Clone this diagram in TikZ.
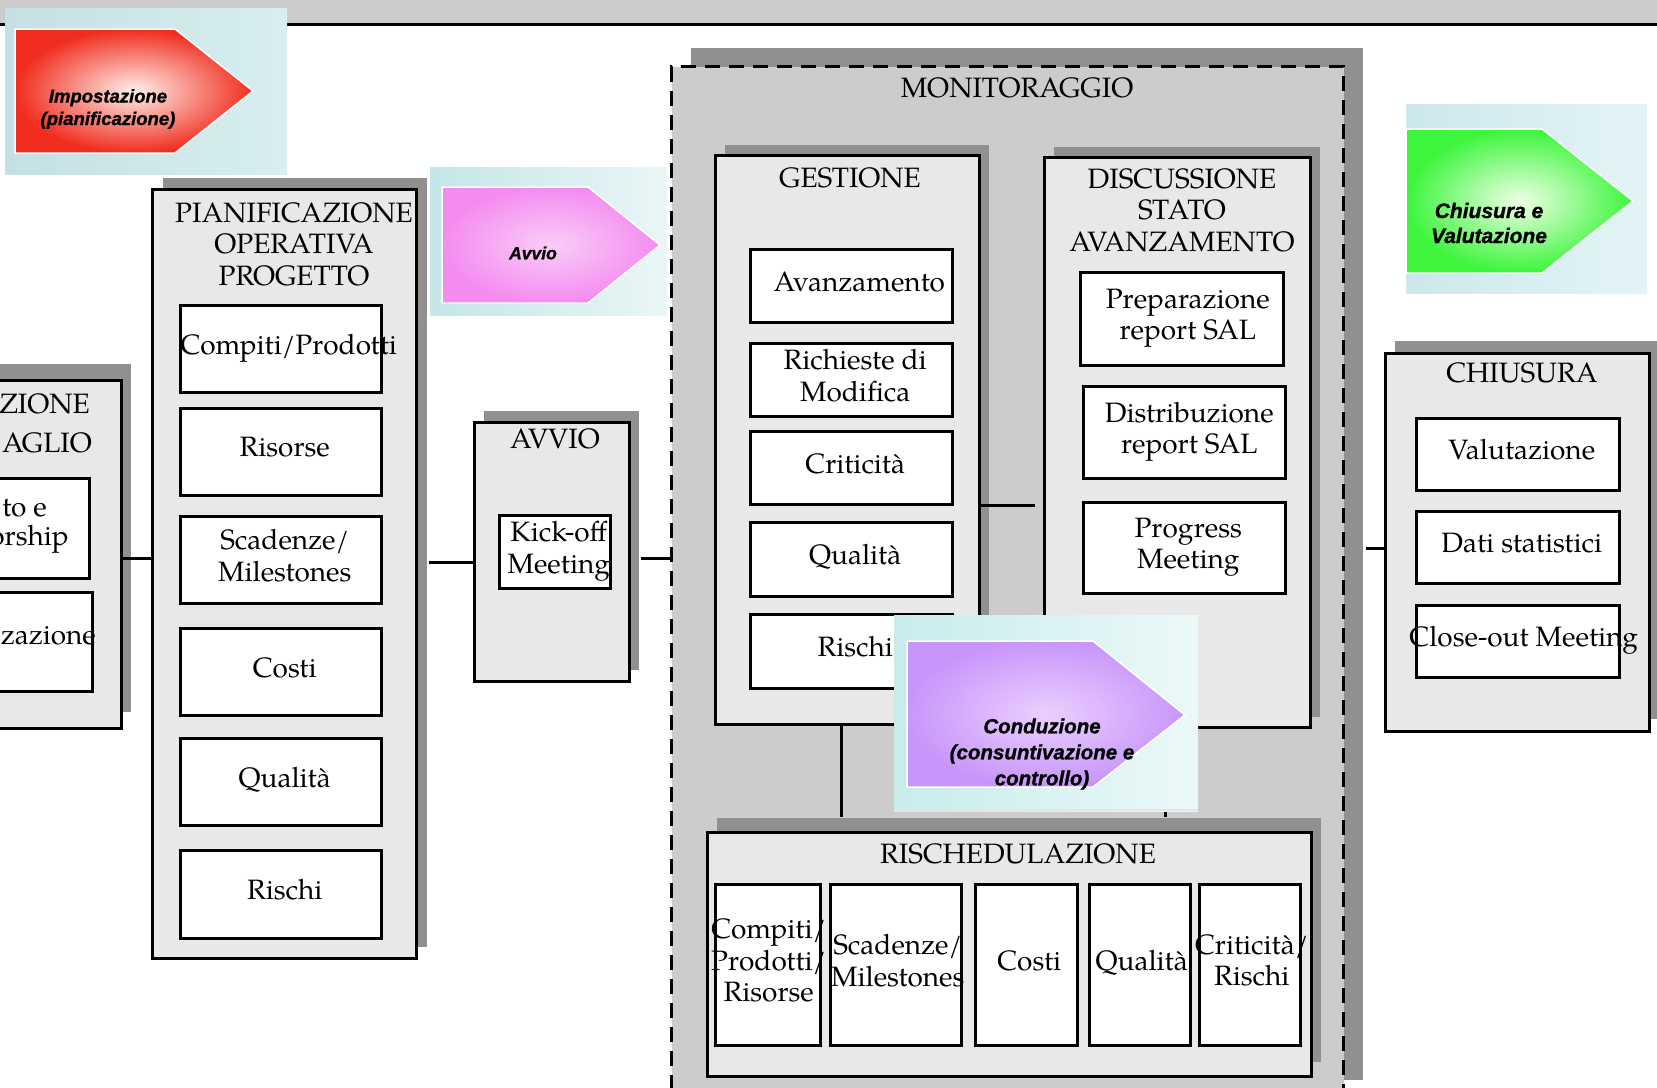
\documentclass[tikz,border=0pt]{standalone}
\usepackage{fontspec}
\setmainfont{TeX Gyre Pagella}
\newfontfamily\arrowfont{Liberation Sans}[BoldItalicFeatures={FakeBold=1.2}]
\usetikzlibrary{shadows}
\definecolor{bargray}{HTML}{CCCCCC}
\definecolor{regiongray}{HTML}{CCCCCC}
\definecolor{framegray}{HTML}{E8E8E8}
\definecolor{shadowgray}{HTML}{909090}
\newcommand\bodysize{\fontsize{28}{31.5}\selectfont}
% white item box with its caption; the caption sits a little right of the centre
% and may run over the border
\newcommand\cellat[7][4pt]{%
  \node[cell, minimum width=#5, minimum height=#6] (#2) at (#3,#4) {};
  \node[celltext] (#2txt) at ([xshift=#1]#2.center) {#7};}
\begin{document}
\begin{tikzpicture}[x=1pt,y=-1pt,
  frame/.style={draw=black, line width=2.8pt, fill=framegray, rectangle, inner sep=0pt, anchor=north west},
  shd/.style 2 args={general shadow={fill=shadowgray, shadow xshift=#1, shadow yshift=#2}},
  region/.style={draw=black, line width=3pt, dash pattern=on 15pt off 9pt, fill=regiongray,
    rectangle, inner sep=0pt, anchor=north west},
  cell/.style={draw=black, line width=2.5pt, fill=white, rectangle, inner sep=0pt, anchor=north west},
  celltext/.style={inner sep=0pt, text depth=9pt, align=center, font=\bodysize},
  title/.style={align=center, inner sep=0pt, font=\bodysize},
  conn/.style={draw=black, line width=2.7pt},
  arrowlabel/.style={align=center, inner sep=0pt, text=black},
  tip/.style={draw=white, line width=1.5pt}
]
\useasboundingbox (0,0) rectangle (1657,1087);
\clip (0,0) rectangle (1657,1087);
\fill[white] (0,0) rectangle (1657,1087);

% header band
\fill[bargray] (0,0) rectangle (1657,24);
\draw[line width=3pt] (0,24.5) -- (1657,24.5);

% monitoring area
\node[region, shd={19pt}{19pt}, minimum width=672pt, minimum height=1032pt] (monitor) at (670,65) {};
\node[title] (monitorTitle) at (1017,88) {MONITORAGGIO};

% phase frames
\node[frame, shd={10pt}{16pt}, minimum width=270pt, minimum height=348pt] (leftbox) at (-150,379) {};
\node[frame, shd={11pt}{11pt}, minimum width=264pt, minimum height=769pt] (pianif) at (151,188) {};
\node[frame, shd={10pt}{11pt}, minimum width=155pt, minimum height=259pt] (avvio) at (473,421) {};
\node[frame, shd={10pt}{10pt}, minimum width=264pt, minimum height=569pt] (gestione) at (714,154) {};
\node[frame, shd={10pt}{10pt}, minimum width=266pt, minimum height=570pt] (discussione) at (1043,156) {};
\node[frame, shd={10pt}{14pt}, minimum width=604pt, minimum height=244pt] (risched) at (706,831) {};
\node[frame, shd={10pt}{12pt}, minimum width=264pt, minimum height=378pt] (chiusura) at (1384,352) {};

% frame titles
\node[title, anchor=east] (leftTitleA) at (90,404) {ZIONE};
\node[title, anchor=east] (leftTitleB) at (92,443) {AGLIO};
\node[title] (pianifTitle) at (294,244) {PIANIFICAZIONE\\OPERATIVA\\PROGETTO};
\node[title] (avvioTitle) at (555,439) {AVVIO};
\node[title] (gestTitle) at (850,178) {GESTIONE};
\node[title] (discTitle) at (1182,210) {DISCUSSIONE\\STATO\\AVANZAMENTO};
\node[title] (rischTitle) at (1018,854) {RISCHEDULAZIONE};
\node[title] (chiusTitle) at (1522,373) {CHIUSURA};

% detail planning items
\node[cell, minimum width=238pt, minimum height=100pt] (lMandato) at (-150,477) {};
\node[cell, minimum width=241pt, minimum height=99pt] (lOrg) at (-150,591) {};
\node[title, anchor=east] (lMandatoA) at (47,508) {to e};
\node[title, anchor=east] (lMandatoB) at (69,539) {orship};
\node[title, anchor=east] (lOrgA) at (96,636) {zazione};

% operational planning items
\cellat[8pt]{pCompiti}{179}{304}{201pt}{87pt}{Compiti/Prodotti}
\cellat{pRisorse}{179}{407}{201pt}{87pt}{Risorse}
\cellat{pScadenze}{179}{515}{201pt}{87pt}{Scadenze/\\Milestones}
\cellat{pCosti}{179}{627}{201pt}{87pt}{Costi}
\cellat{pQualita}{179}{737}{201pt}{87pt}{Qualità}
\cellat{pRischi}{179}{849}{201pt}{88pt}{Rischi}

% start-up
\cellat{kickoff}{498}{514}{111pt}{73pt}{Kick-off\\Meeting}

% management
\cellat[8pt]{gAvanz}{749}{248}{202pt}{73pt}{Avanzamento}
\cellat{gRichieste}{749}{342}{202pt}{73pt}{Richieste di\\Modifica}
\cellat{gCriticita}{749}{430}{202pt}{73pt}{Criticità}
\cellat{gQualita}{749}{521}{202pt}{74pt}{Qualità}
\cellat{gRischi}{749}{613}{202pt}{74pt}{Rischi}

% progress review
\cellat[6pt]{dPrep}{1079}{271}{203pt}{93pt}{Preparazione\\report SAL}
\cellat[5pt]{dDistr}{1082}{385}{202pt}{92pt}{Distribuzione\\report SAL}
\cellat{dProgress}{1082}{501}{202pt}{91pt}{Progress\\Meeting}

% rescheduling
\cellat[1pt]{r1}{714}{883}{105pt}{161pt}{Compiti/\\Prodotti/\\Risorse}
\cellat[2pt]{r2}{829}{883}{131pt}{161pt}{Scadenze/\\Milestones}
\cellat[3pt]{r3}{974}{883}{102pt}{161pt}{Costi}
\cellat[2pt]{r4}{1088}{883}{101pt}{161pt}{Qualità}
\cellat[2pt]{r5}{1198}{883}{101pt}{161pt}{Criticità/\\Rischi}

% closing
\cellat{cVal}{1415}{417}{203pt}{72pt}{Valutazione}
\cellat{cDati}{1415}{510}{203pt}{72pt}{Dati statistici}
\cellat[6pt]{cClose}{1415}{604}{203pt}{72pt}{Close-out Meeting}

% connectors
\draw[conn] ([yshift=-4pt]leftbox.east) -- ([yshift=-4pt]leftbox.east -| pianif.west);
\draw[conn, shorten <=11pt] ([yshift=-10.5pt]avvio.west -| pianif.east) -- ([yshift=-10.5pt]avvio.west);
\draw[conn, shorten <=10pt] ([yshift=-6.5pt]avvio.east) -- ([yshift=-6.5pt]avvio.east -| monitor.west);
\draw[conn, shorten >=8pt] ([yshift=-65.5pt]gestione.east) -- ([yshift=-65.5pt]gestione.east -| discussione.west);
\draw[conn, shorten >=14pt] ([xshift=-6pt]gestione.south) -- ([xshift=-6pt]gestione.south |- risched.north);
\draw[conn, shorten >=14pt] ([xshift=-12pt]discussione.south) -- ([xshift=-12pt]discussione.south |- risched.north);
\draw[conn, shorten <=21pt] ([yshift=-6pt]chiusura.west -| monitor.east) -- ([yshift=-6pt]chiusura.west);

% phase arrow: planning
\fill[left color={rgb,255:red,196;green,224;blue,226}, right color={rgb,255:red,216;green,238;blue,240}]
  (5,8) rectangle (287,174);
\path[tip, inner color={rgb,255:red,255;green,240;blue,235}, outer color={rgb,255:red,240;green,45;blue,30}]
  (15,29) -- (175,29) -- (253,91) -- (175,153) -- (15,153) -- cycle;
\node[arrowlabel, font=\arrowfont\bfseries\itshape\fontsize{18.5}{22.5}\selectfont] (lblImpost) at (108,109)
  {Impostazione\\(pianificazione)};

% phase arrow: start-up
\fill[left color={rgb,255:red,196;green,230;blue,232}, right color={rgb,255:red,234;green,246;blue,246}]
  (430,167) rectangle (667,315);
\path[tip, inner color={rgb,255:red,250;green,205;blue,248}, outer color={rgb,255:red,244;green,140;blue,240}]
  (442,187) -- (588,187) -- (660,245) -- (588,303) -- (442,303) -- cycle;
\node[arrowlabel, font=\arrowfont\bfseries\itshape\fontsize{17.5}{22}\selectfont] (lblAvvio) at (533,253) {Avvio};

% phase arrow: closing
\fill[left color={rgb,255:red,204;green,232;blue,236}, right color={rgb,255:red,228;green,244;blue,246}]
  (1406,104) rectangle (1647,293);
\path[tip, inner color={rgb,255:red,240;green,255;blue,230}, outer color={rgb,255:red,60;green,245;blue,60}]
  (1406,129) -- (1542,129) -- (1633,201) -- (1542,273) -- (1406,273) -- cycle;
\node[arrowlabel, font=\arrowfont\bfseries\itshape\fontsize{21}{25}\selectfont] (lblChius) at (1489,223)
  {Chiusura e\\Valutazione};

% phase arrow: execution
\fill[left color={rgb,255:red,200;green,236;blue,236}, right color={rgb,255:red,236;green,248;blue,248}]
  (894,615) rectangle (1198,811);
\draw[white!80!gray, line width=1.5pt] (894,810) -- (1198,810);
\path[tip, inner color={rgb,255:red,234;green,208;blue,255}, outer color={rgb,255:red,200;green,150;blue,250}]
  (907,641) -- (1093,641) -- (1185,715) -- (1093,787) -- (907,787) -- cycle;
\node[arrowlabel, font=\arrowfont\bfseries\itshape\fontsize{20.5}{26}\selectfont] (lblCond) at (1042,754)
  {Conduzione\\(consuntivazione e\\controllo)};
\end{tikzpicture}
\end{document}
